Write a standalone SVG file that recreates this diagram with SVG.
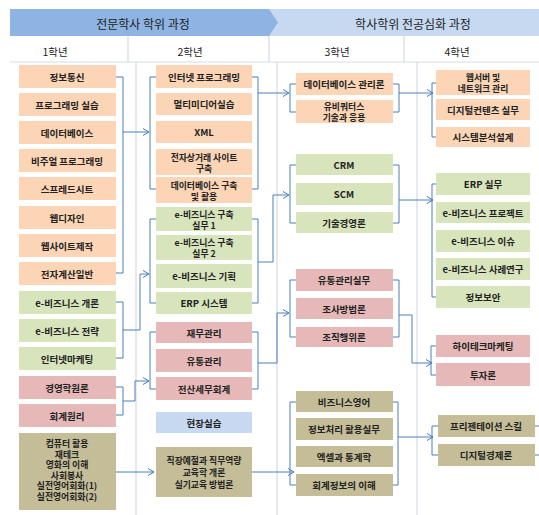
<svg xmlns="http://www.w3.org/2000/svg" width="539" height="515" viewBox="0 0 539 515">
<defs>
<marker id="ah" markerWidth="8" markerHeight="8" refX="7" refY="4" orient="auto" markerUnits="userSpaceOnUse">
<path d="M1,0.5 L7,4 L1,7.5" fill="none" stroke="#4A7EBB" stroke-width="1"/>
</marker>
<style>
text{font-family:"Noto Sans CJK KR","Noto Sans",sans-serif;font-size:9.5px;fill:#222;text-anchor:middle;dominant-baseline:central;font-weight:bold}
.m{font-size:8.8px}
.hd{font-size:12px;font-weight:normal;fill:#222}
.yr{font-size:10.5px;font-weight:normal;font-family:"Noto Sans CJK KR",serif}
.o{fill:#FBD5B5}
.g{fill:#D8E4BC}
.p{fill:#E6B9B8}
.b{fill:#C6D9F1}
.t{fill:#C4BD97}
.sep{stroke:#D5DCE6;stroke-width:1.2;fill:none}
.c path{stroke:#4A7EBB;stroke-width:1;fill:none}
</style>
</defs>
<rect width="539" height="515" fill="#fff"/>
<g id="header">
<rect x="265" y="9" width="274" height="27" fill="#C6D9F1"/>
<path d="M10,9 H269 L278,22.5 L269,36 H10 Z" fill="#8DB4E2"/>
<text class="hd" x="143" y="23">전문학사 학위 과정</text>
<text class="hd" x="413" y="23">학사학위 전공심화 과정</text>
<text class="yr" x="55" y="51">1학년</text>
<text class="yr" x="190" y="51">2학년</text>
<text class="yr" x="337" y="51">3학년</text>
<text class="yr" x="457" y="51">4학년</text>
<line class="sep" x1="128" y1="36" x2="128" y2="62"/>
<line class="sep" x1="269" y1="36" x2="269" y2="62"/>
<line class="sep" x1="404" y1="36" x2="404" y2="62"/>
<line class="sep" x1="10" y1="62" x2="539" y2="62"/>
<line class="sep" x1="136" y1="62" x2="136" y2="515"/>
<line class="sep" x1="277" y1="62" x2="277" y2="515"/>
<line class="sep" x1="417" y1="62" x2="417" y2="515"/>
</g>
<g id="y1-1"><rect class="o" x="19" y="65" width="97" height="23"/><text x="67" y="76.5">정보통신</text></g>
<g id="y1-2"><rect class="o" x="19" y="93" width="97" height="23"/><text x="67" y="104.5">프로그래밍 실습</text></g>
<g id="y1-3"><rect class="o" x="19" y="121" width="97" height="23"/><text x="67" y="132.5">데이터베이스</text></g>
<g id="y1-4"><rect class="o" x="19" y="149" width="97" height="23"/><text x="67" y="160.5">비주얼 프로그래밍</text></g>
<g id="y1-5"><rect class="o" x="19" y="177" width="97" height="23"/><text x="67" y="188.5">스프레드시트</text></g>
<g id="y1-6"><rect class="o" x="19" y="206" width="97" height="23"/><text x="67" y="217.5">웹디자인</text></g>
<g id="y1-7"><rect class="o" x="19" y="234" width="97" height="23"/><text x="67" y="245.5">웹사이트제작</text></g>
<g id="y1-8"><rect class="o" x="19" y="262" width="97" height="23"/><text x="67" y="273.5">전자계산일반</text></g>
<g id="y1-9"><rect class="g" x="19" y="291" width="97" height="23"/><text x="67" y="302.5">e-비즈니스 개론</text></g>
<g id="y1-10"><rect class="g" x="19" y="319" width="97" height="23"/><text x="67" y="330.5">e-비즈니스 전략</text></g>
<g id="y1-11"><rect class="g" x="19" y="347" width="97" height="23"/><text x="67" y="358.5">인터넷마케팅</text></g>
<g id="y1-12"><rect class="p" x="19" y="376" width="97" height="23"/><text x="67" y="387.5">경영학원론</text></g>
<g id="y1-13"><rect class="p" x="19" y="404" width="97" height="23"/><text x="67" y="415.5">회계원리</text></g>
<g id="y1-14"><rect class="t" x="19" y="433" width="97" height="77"/>
<text class="m" x="67" y="443"><tspan x="67">컴퓨터 활용</tspan><tspan x="67" dy="10.6">재테크</tspan><tspan x="67" dy="10.6">영화의 이해</tspan><tspan x="67" dy="10.6">사회봉사</tspan><tspan x="67" dy="10.6">실전영어회화(1)</tspan><tspan x="67" dy="10.6">실전영어회화(2)</tspan></text></g>
<g id="y2-1"><rect class="o" x="156" y="65" width="96" height="23"/><text x="204" y="76.5">인터넷 프로그래밍</text></g>
<g id="y2-2"><rect class="o" x="156" y="93" width="96" height="22"/><text x="204" y="104">멀티미디어실습</text></g>
<g id="y2-3"><rect class="o" x="156" y="121" width="96" height="22"/><text x="204" y="132">XML</text></g>
<g id="y2-4"><rect class="o" x="156" y="149" width="96" height="26"/><text class="m" x="204" y="156.5"><tspan x="204">전자상거래 사이트</tspan><tspan x="204" dy="11">구축</tspan></text></g>
<g id="y2-5"><rect class="o" x="156" y="177" width="96" height="26"/><text class="m" x="204" y="184.5"><tspan x="204">데이터베이스 구축</tspan><tspan x="204" dy="11">및 활용</tspan></text></g>
<g id="y2-6"><rect class="g" x="156" y="207" width="96" height="24"/><text class="m" x="204" y="213.5"><tspan x="204">e-비즈니스 구축</tspan><tspan x="204" dy="11">실무 1</tspan></text></g>
<g id="y2-7"><rect class="g" x="156" y="235" width="96" height="25"/><text class="m" x="204" y="242"><tspan x="204">e-비즈니스 구축</tspan><tspan x="204" dy="11">실무 2</tspan></text></g>
<g id="y2-8"><rect class="g" x="156" y="264" width="96" height="24"/><text x="204" y="276">e-비즈니스 기획</text></g>
<g id="y2-9"><rect class="g" x="156" y="292" width="96" height="22"/><text x="204" y="303">ERP 시스템</text></g>
<g id="y2-10"><rect class="p" x="156" y="322" width="96" height="21"/><text x="204" y="332.5">재무관리</text></g>
<g id="y2-11"><rect class="p" x="156" y="349" width="96" height="23"/><text x="204" y="360.5">유통관리</text></g>
<g id="y2-12"><rect class="p" x="156" y="377" width="96" height="23"/><text x="204" y="388.5">전산세무회계</text></g>
<g id="y2-13"><rect class="b" x="156" y="412" width="96" height="21"/><text x="204" y="422.5">현장실습</text></g>
<g id="y2-14"><rect class="t" x="156" y="447" width="96" height="50"/><text class="m" x="204" y="460"><tspan x="204">직장예절과 직무역량</tspan><tspan x="204" dy="12">교육학 개론</tspan><tspan x="204" dy="12">실기교육 방법론</tspan></text></g>
<g id="y3-1"><rect class="o" x="296" y="73" width="97" height="22"/><text x="344" y="84">데이터베이스 관리론</text></g>
<g id="y3-2"><rect class="o" x="296" y="100" width="97" height="23"/><text class="m" x="344" y="106"><tspan x="344">유비쿼터스</tspan><tspan x="344" dy="11">기술과 응용</tspan></text></g>
<g id="y3-3"><rect class="g" x="296" y="154" width="97" height="21"/><text x="344" y="164.5">CRM</text></g>
<g id="y3-4"><rect class="g" x="296" y="183" width="97" height="22"/><text x="344" y="194">SCM</text></g>
<g id="y3-5"><rect class="g" x="296" y="212" width="97" height="21"/><text x="344" y="222.5">기술경영론</text></g>
<g id="y3-6"><rect class="p" x="296" y="269" width="97" height="22"/><text x="344" y="280">유통관리실무</text></g>
<g id="y3-7"><rect class="p" x="296" y="298" width="97" height="21"/><text x="344" y="308.5">조사방법론</text></g>
<g id="y3-8"><rect class="p" x="296" y="327" width="97" height="20"/><text x="344" y="337">조직행위론</text></g>
<g id="y3-9"><rect class="t" x="296" y="391" width="97" height="21"/><text x="344" y="401.5">비즈니스영어</text></g>
<g id="y3-10"><rect class="t" x="296" y="418" width="97" height="22"/><text x="344" y="429">정보처리 활용실무</text></g>
<g id="y3-11"><rect class="t" x="296" y="446" width="97" height="21"/><text x="344" y="456.5">엑셀과 통계학</text></g>
<g id="y3-12"><rect class="t" x="296" y="474" width="97" height="22"/><text x="344" y="485">회계정보의 이해</text></g>
<g id="y4-1"><rect class="o" x="436" y="70" width="94" height="25"/><text class="m" x="483" y="77"><tspan x="483">웹서버 및</tspan><tspan x="483" dy="11">네트워크 관리</tspan></text></g>
<g id="y4-2"><rect class="o" x="436" y="99" width="94" height="21"/><text x="483" y="109.5">디지털컨텐츠 실무</text></g>
<g id="y4-3"><rect class="o" x="436" y="127" width="94" height="20"/><text x="483" y="137">시스템분석설계</text></g>
<g id="y4-4"><rect class="g" x="436" y="173" width="94" height="22"/><text x="483" y="184">ERP 실무</text></g>
<g id="y4-5"><rect class="g" x="436" y="202" width="94" height="21"/><text x="483" y="212.5">e-비즈니스 프로젝트</text></g>
<g id="y4-6"><rect class="g" x="436" y="230" width="94" height="22"/><text x="483" y="241">e-비즈니스 이슈</text></g>
<g id="y4-7"><rect class="g" x="436" y="258" width="94" height="22"/><text x="483" y="269">e-비즈니스 사례연구</text></g>
<g id="y4-8"><rect class="g" x="436" y="286" width="94" height="22"/><text x="483" y="297">정보보안</text></g>
<g id="y4-9"><rect class="p" x="436" y="335" width="94" height="22"/><text x="483" y="346">하이테크마케팅</text></g>
<g id="y4-10"><rect class="p" x="436" y="363" width="94" height="23"/><text x="483" y="374.5">투자론</text></g>
<g id="y4-11"><rect class="t" x="438" y="415" width="97" height="22"/><text x="486" y="426">프리젠테이션 스킬</text></g>
<g id="y4-12"><rect class="t" x="438" y="444" width="97" height="22"/><text x="486" y="455">디지털경제론</text></g>
<g id="connectors" class="c">
<path d="M116,77 H123 V273 H116"/>
<path d="M123,132 H149" marker-end="url(#ah)"/>
<path d="M116,302 H123 V358 H116"/>
<path d="M123,330 H140 V274 H149" marker-end="url(#ah)"/>
<path d="M116,387 H123 V415 H116"/>
<path d="M123,401 H135 V381 H149" marker-end="url(#ah)"/>
<path d="M116,472 H154" marker-end="url(#ah)"/>
<path d="M156,77 H150 V189 H156"/>
<path d="M252,77 H258 V189 H252"/>
<path d="M258,93 H289" marker-end="url(#ah)"/>
<path d="M156,219 H150 V303 H156"/>
<path d="M252,219 H258 V303 H252"/>
<path d="M258,262 H273 V195 H289" marker-end="url(#ah)"/>
<path d="M156,332 H150 V389 H156"/>
<path d="M252,332 H258 V389 H252"/>
<path d="M258,363 H277 V313 H289" marker-end="url(#ah)"/>
<path d="M252,472 H294" marker-end="url(#ah)"/>
<path d="M296,84 H290 V112 H296"/>
<path d="M393,84 H399 V112 H393"/>
<path d="M399,93 H433" marker-end="url(#ah)"/>
<path d="M296,165 H290 V223 H296"/>
<path d="M393,165 H399 V223 H393"/>
<path d="M399,200 H433" marker-end="url(#ah)"/>
<path d="M296,280 H290 V337 H296"/>
<path d="M393,280 H399 V337 H393"/>
<path d="M399,315 H412 V363 H432" marker-end="url(#ah)"/>
<path d="M296,402 H290 V485 H296"/>
<path d="M393,402 H398 V485 H393"/>
<path d="M398,437 H433" marker-end="url(#ah)"/>
<path d="M436,83 H432 V137 H436"/>
<path d="M436,184 H432 V297 H436"/>
<path d="M436,346 H431 V375 H436"/>
<path d="M438,426 H432 V455 H438"/>
<path d="M535,426 H539 M535,455 H539"/>
</g>
</svg>
